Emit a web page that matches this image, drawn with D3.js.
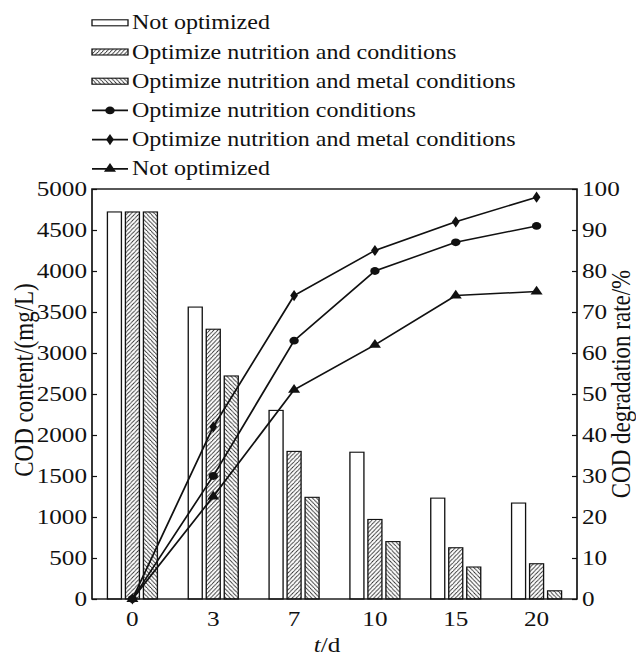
<!DOCTYPE html>
<html>
<head>
<meta charset="utf-8">
<script src="https://cdn.jsdelivr.net/npm/d3@7"></script>
<style>
  body { margin: 0; background: #fff; }
  svg { display: block; }
  text { font-family: "Liberation Serif", "Times New Roman", serif; fill: #111; }
</style>
</head>
<body>
<div id="chart"></div>
<script>
// data
var days = ["0", "3", "7", "10", "15", "20"];
var barSeries = ["Not optimized", "Optimize nutrition and conditions", "Optimize nutrition and metal conditions"];
var codNotOpt   = [4720, 3560, 2300, 1790, 1230, 1170];
var codNutCond  = [4720, 3290, 1800, 970, 625, 430];
var codNutMetal = [4720, 2720, 1240, 700, 390, 100];

var lineSeries = ["Optimize nutrition conditions", "Optimize nutrition and metal conditions", "Not optimized"];
var rateNutCond  = [0, 30, 63, 80, 87, 91];
var rateNutMetal = [0, 42, 74, 85, 92, 98];
var rateNotOpt   = [0, 25, 51, 62, 74, 75];

var codTicks = d3.range(0, 5001, 500);
var rateTicks = d3.range(0, 101, 10);

// the original is stretched sideways, so draw in a narrower box and let the viewBox widen it
var SX = 1.2;
var width = 636, height = 657;
var W = width / SX;
var pLeft = 92 / SX, pRight = 577 / SX, pTop = 189, pBottom = 599;

var svg = d3.select("#chart").append("svg")
  .attr("width", width).attr("height", height)
  .attr("viewBox", "0 0 " + W + " " + height)
  .attr("preserveAspectRatio", "none");

var defs = svg.append("defs");
function hatch(id, dir) {
  var p = defs.append("pattern").attr("id", id)
    .attr("patternUnits", "userSpaceOnUse").attr("width", 3.4).attr("height", 4.2);
  p.append("rect").attr("width", 3.4).attr("height", 4.2).attr("fill", "#fff");
  p.append("path")
    .attr("d", dir > 0 ? "M-1,5.4L4.4,-1.2M-1,1.2L1,-1.2M2.4,6.6L4.4,4.2" : "M-1,-1.2L4.4,5.4M-1,3L1,5.4M2.4,-2.4L4.4,0")
    .attr("stroke", "#222").attr("stroke-width", 0.75);
}
hatch("h1", 1);
hatch("h2", -1);
var fills = ["#fff", "url(#h1)", "url(#h2)"];

var x0 = d3.scaleBand().domain(days).range([pLeft, pRight]).padding(0);
var x1 = d3.scaleBand().domain(barSeries).range([-27 / SX, 27 / SX]).paddingInner(0.222).paddingOuter(0.111);
var yL = d3.scaleLinear().domain([0, 5000]).range([pBottom, pTop]);
var yR = d3.scaleLinear().domain([0, 100]).range([pBottom, pTop]);
function cx(d) { return x0(d) + x0.bandwidth() / 2; }

// bars
var barData = [codNotOpt, codNutCond, codNutMetal];
barSeries.forEach(function(s, si) {
  svg.append("g").selectAll("rect")
    .data(days).enter().append("rect")
    .attr("x", function(d) { return cx(d) + x1(s); })
    .attr("width", x1.bandwidth())
    .attr("y", function(d, i) { return yL(barData[si][i]); })
    .attr("height", function(d, i) { return pBottom - yL(barData[si][i]); })
    .attr("fill", fills[si])
    .attr("stroke", "#111").attr("stroke-width", 1.1);
});

// frame
svg.append("rect")
  .attr("x", pLeft).attr("y", pTop)
  .attr("width", pRight - pLeft).attr("height", pBottom - pTop)
  .attr("fill", "none").attr("stroke", "#111").attr("stroke-width", 1.4);

// axes
var gL = svg.append("g").attr("transform", "translate(" + pLeft + ",0)")
  .call(d3.axisLeft(yL).tickValues(codTicks).tickFormat(d3.format("d"))
    .tickSizeInner(-5 / SX).tickSizeOuter(0).tickPadding(5 / SX));
var gR = svg.append("g").attr("transform", "translate(" + pRight + ",0)")
  .call(d3.axisRight(yR).tickValues(rateTicks).tickFormat(d3.format("d"))
    .tickSizeInner(-5 / SX).tickSizeOuter(0).tickPadding(5 / SX));
var gB = svg.append("g").attr("transform", "translate(0," + pBottom + ")")
  .call(d3.axisBottom(x0).tickSize(0).tickPadding(12));
[gL, gR, gB].forEach(function(g) {
  g.select(".domain").remove();
  g.selectAll("line").attr("stroke", "#111").attr("stroke-width", 1.2);
  g.selectAll("text").attr("font-size", 21).attr("font-family", "Liberation Serif").attr("fill", "#111");
});

// axis titles
svg.append("text")
  .attr("transform", "translate(" + (23 / SX) + ",380) rotate(-90)")
  .attr("text-anchor", "middle").attr("dominant-baseline", "central")
  .attr("font-size", 23).text("COD content/(mg/L)");
svg.append("text")
  .attr("transform", "translate(" + (620 / SX) + ",384) rotate(-90)")
  .attr("text-anchor", "middle").attr("dominant-baseline", "central")
  .attr("font-size", 23).text("COD degradation rate/%");
var xt = svg.append("text")
  .attr("x", 327 / SX).attr("y", 652)
  .attr("text-anchor", "middle").attr("font-size", 21);
xt.append("tspan").attr("font-style", "italic").text("t");
xt.append("tspan").text("/d");

// lines
var lineData = [rateNutCond, rateNutMetal, rateNotOpt];
var symbols = [d3.symbolCircle, d3.symbolDiamond, d3.symbolTriangle];
var symSizes = [48, 36, 44];
var line = d3.line()
  .x(function(d, i) { return cx(days[i]); })
  .y(function(d) { return yR(d); });
lineData.forEach(function(vals, li) {
  svg.append("path").datum(vals)
    .attr("d", line).attr("fill", "none")
    .attr("stroke", "#111").attr("stroke-width", 1.5);
  svg.append("g").selectAll("path")
    .data(vals).enter().append("path")
    .attr("transform", function(d, i) { return "translate(" + cx(days[i]) + "," + yR(d) + ")"; })
    .attr("d", d3.symbol().type(symbols[li]).size(symSizes[li]))
    .attr("fill", "#111");
});

// legend
var legend = [
  { label: barSeries[0], kind: "bar", fill: fills[0] },
  { label: barSeries[1], kind: "bar", fill: fills[1] },
  { label: barSeries[2], kind: "bar", fill: fills[2] },
  { label: lineSeries[0], kind: "line", sym: symbols[0], size: symSizes[0] },
  { label: lineSeries[1], kind: "line", sym: symbols[1], size: symSizes[1] },
  { label: lineSeries[2], kind: "line", sym: symbols[2], size: symSizes[2] }
];
var lg = svg.append("g").selectAll("g")
  .data(legend).enter().append("g")
  .attr("transform", function(d, i) { return "translate(0," + (22.8 + i * 29.2) + ")"; });
lg.filter(function(d) { return d.kind === "bar"; }).append("rect")
  .attr("x", 92 / SX).attr("y", -3).attr("width", 36 / SX).attr("height", 6)
  .attr("fill", function(d) { return d.fill; })
  .attr("stroke", "#111").attr("stroke-width", 1.1);
var ll = lg.filter(function(d) { return d.kind === "line"; });
ll.append("line")
  .attr("x1", 92 / SX).attr("x2", 128 / SX)
  .attr("stroke", "#111").attr("stroke-width", 1.8);
ll.append("path")
  .attr("transform", "translate(" + (110 / SX) + ",0)")
  .attr("d", function(d) { return d3.symbol().type(d.sym).size(d.size)(); })
  .attr("fill", "#111");
lg.append("text")
  .attr("x", 132 / SX).attr("y", 6.5)
  .attr("font-size", 20)
  .text(function(d) { return d.label; });
</script>
</body>
</html>
